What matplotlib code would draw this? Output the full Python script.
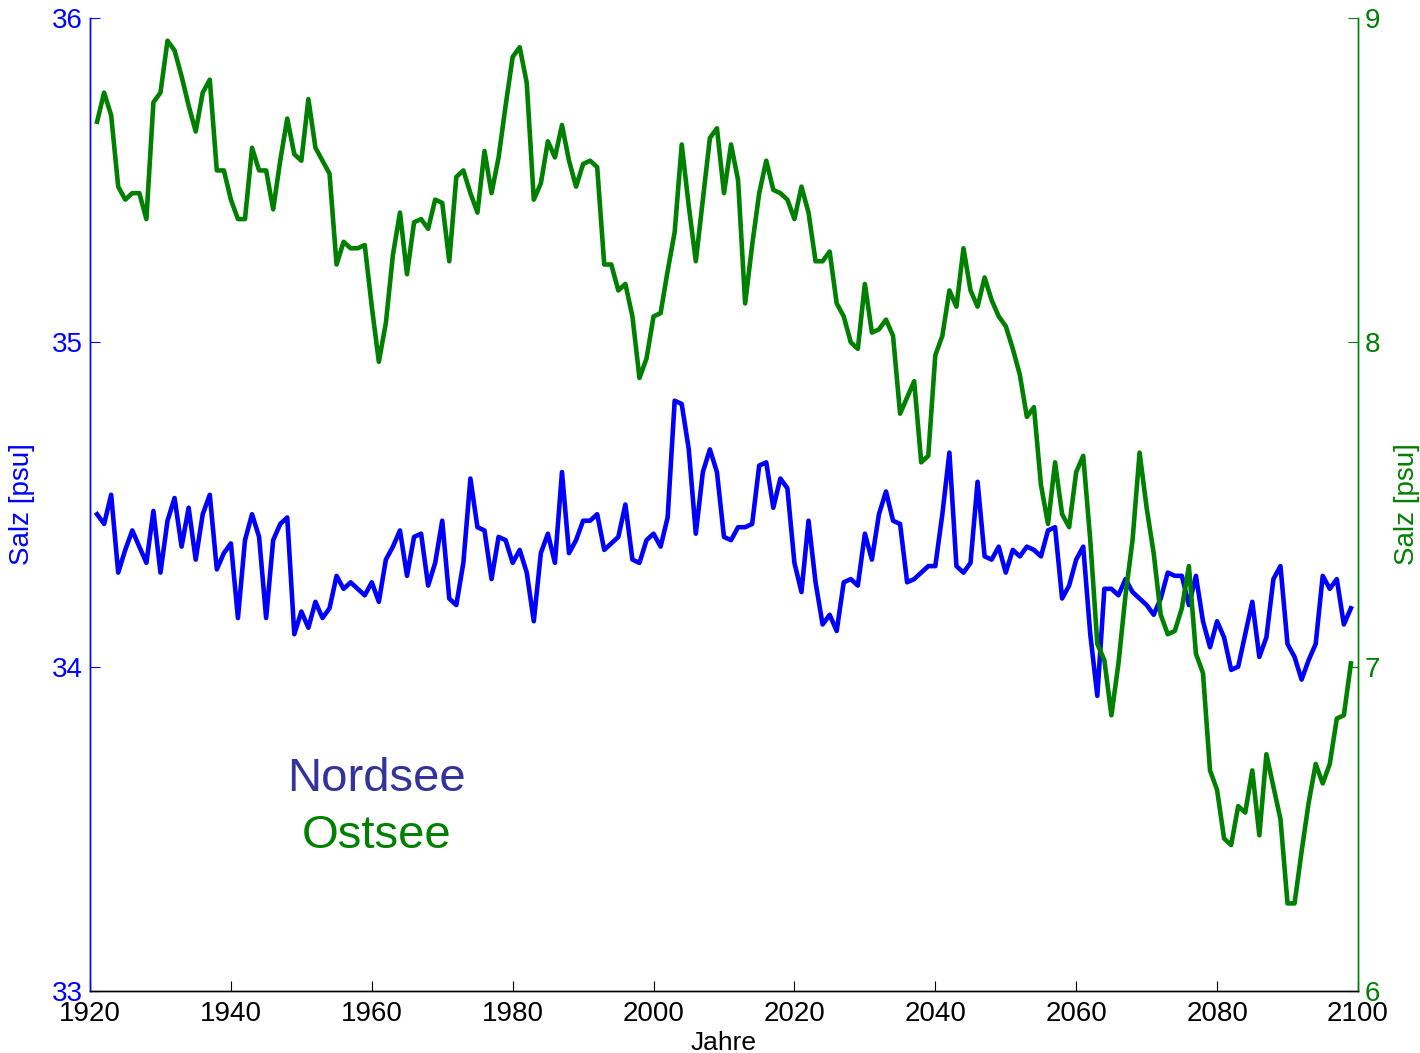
import numpy as np
import matplotlib
matplotlib.use("Agg")
import matplotlib.pyplot as plt

plt.rcParams["font.family"] = ["Liberation Sans", "DejaVu Sans"]

# =========================================================
# DATA
# =========================================================
years = np.arange(1921, 2100)

# Nordsee salinity [psu], left axis
nordsee = [
    34.47, 34.44, 34.53, 34.29, 34.36, 34.42, 34.37, 34.32, 34.48, 34.29,
    34.45, 34.52, 34.37, 34.49, 34.33, 34.47, 34.53, 34.30, 34.35, 34.38,
    34.15, 34.39, 34.47, 34.40, 34.15, 34.39, 34.44, 34.46, 34.10, 34.17,
    34.12, 34.20, 34.15, 34.18, 34.28, 34.24, 34.26, 34.24, 34.22, 34.26,
    34.20, 34.33, 34.37, 34.42, 34.28, 34.40, 34.41, 34.25, 34.32, 34.45,
    34.21, 34.19, 34.32, 34.58, 34.43, 34.42, 34.27, 34.40, 34.39, 34.32,
    34.36, 34.29, 34.14, 34.35, 34.41, 34.32, 34.60, 34.35, 34.39, 34.45,
    34.45, 34.47, 34.36, 34.38, 34.40, 34.50, 34.33, 34.32, 34.39, 34.41,
    34.37, 34.46, 34.82, 34.81, 34.67, 34.41, 34.60, 34.67, 34.60, 34.40,
    34.39, 34.43, 34.43, 34.44, 34.62, 34.63, 34.49, 34.58, 34.55, 34.32,
    34.23, 34.45, 34.26, 34.13, 34.16, 34.11, 34.26, 34.27, 34.25, 34.41,
    34.33, 34.47, 34.54, 34.45, 34.44, 34.26, 34.27, 34.29, 34.31, 34.31,
    34.47, 34.66, 34.31, 34.29, 34.32, 34.57, 34.34, 34.33, 34.37, 34.29,
    34.36, 34.34, 34.37, 34.36, 34.34, 34.42, 34.43, 34.21, 34.25, 34.33,
    34.37, 34.10, 33.91, 34.24, 34.24, 34.22, 34.27, 34.23, 34.21, 34.19,
    34.16, 34.21, 34.29, 34.28, 34.28, 34.19, 34.28, 34.14, 34.06, 34.14,
    34.09, 33.99, 34.00, 34.10, 34.20, 34.03, 34.09, 34.27, 34.31, 34.07,
    34.03, 33.96, 34.02, 34.07, 34.28, 34.24, 34.27, 34.13, 34.18,
]

# Ostsee salinity [psu], right axis
ostsee = [
    8.68, 8.77, 8.70, 8.48, 8.44, 8.46, 8.46, 8.38, 8.74, 8.77,
    8.93, 8.90, 8.82, 8.73, 8.65, 8.77, 8.81, 8.53, 8.53, 8.44,
    8.38, 8.38, 8.60, 8.53, 8.53, 8.41, 8.56, 8.69, 8.58, 8.56,
    8.75, 8.60, 8.56, 8.52, 8.24, 8.31, 8.29, 8.29, 8.30, 8.11,
    7.94, 8.06, 8.27, 8.40, 8.21, 8.37, 8.38, 8.35, 8.44, 8.43,
    8.25, 8.51, 8.53, 8.46, 8.40, 8.59, 8.46, 8.57, 8.73, 8.88,
    8.91, 8.80, 8.44, 8.49, 8.62, 8.57, 8.67, 8.56, 8.48, 8.55,
    8.56, 8.54, 8.24, 8.24, 8.16, 8.18, 8.08, 7.89, 7.95, 8.08,
    8.09, 8.22, 8.34, 8.61, 8.42, 8.25, 8.44, 8.63, 8.66, 8.46,
    8.61, 8.50, 8.12, 8.30, 8.46, 8.56, 8.47, 8.46, 8.44, 8.38,
    8.48, 8.40, 8.25, 8.25, 8.28, 8.12, 8.08, 8.00, 7.98, 8.18,
    8.03, 8.04, 8.07, 8.02, 7.78, 7.83, 7.88, 7.63, 7.65, 7.96,
    8.02, 8.16, 8.11, 8.29, 8.16, 8.11, 8.20, 8.13, 8.08, 8.05,
    7.98, 7.90, 7.77, 7.80, 7.56, 7.44, 7.63, 7.47, 7.43, 7.60,
    7.65, 7.39, 7.07, 7.02, 6.85, 7.01, 7.22, 7.39, 7.66, 7.49,
    7.35, 7.16, 7.10, 7.11, 7.18, 7.31, 7.04, 6.98, 6.68, 6.62,
    6.47, 6.45, 6.57, 6.55, 6.68, 6.48, 6.73, 6.63, 6.53, 6.27,
    6.27, 6.43, 6.58, 6.70, 6.64, 6.70, 6.84, 6.85, 7.01,
]

BLUE = "#0000ff"
GREEN = "#008000"

# =========================================================
# PLOT
# =========================================================
fig = plt.figure(figsize=(14.2, 10.53), dpi=100)
ax1 = fig.add_axes([0.0634, 0.0589, 0.8929, 0.924])
ax2 = ax1.twinx()

ax1.plot(years, nordsee, color=BLUE, linewidth=3.3)
ax2.plot(years, ostsee, color=GREEN, linewidth=3.3)

ax1.set_xlim(1920, 2100)
ax1.set_ylim(33, 36)
ax2.set_ylim(6, 9)
ax1.set_xticks(np.arange(1920, 2101, 20))
ax1.set_yticks([33, 34, 35, 36])
ax2.set_yticks([6, 7, 8, 9])

ax1.tick_params(axis="x", direction="in", labelsize=20, colors="black", length=7, pad=7)
ax1.tick_params(axis="y", direction="in", labelsize=20, colors=BLUE, length=7, pad=5)
ax2.tick_params(axis="y", direction="in", labelsize=20, colors=GREEN, length=7, pad=5)

ax1.set_xlabel("Jahre", fontsize=19, labelpad=3)
ax1.set_ylabel("Salz [psu]", fontsize=20, color=BLUE, labelpad=12)
ax2.set_ylabel("Salz [psu]", fontsize=20, color=GREEN, labelpad=10)

for ax in (ax1, ax2):
    ax.spines["left"].set_color(BLUE)
    ax.spines["right"].set_color(GREEN)
    ax.spines["top"].set_visible(False)
    ax.spines["bottom"].set_color("black")
    for s in ax.spines.values():
        s.set_linewidth(1.0)

ax1.text(1960.7, 33.655, "Nordsee", color="#333399", fontsize=34,
         ha="center", va="center")
ax1.text(1960.7, 33.478, "Ostsee", color=GREEN, fontsize=34,
         ha="center", va="center")

fig.savefig("out.png", dpi=100)
